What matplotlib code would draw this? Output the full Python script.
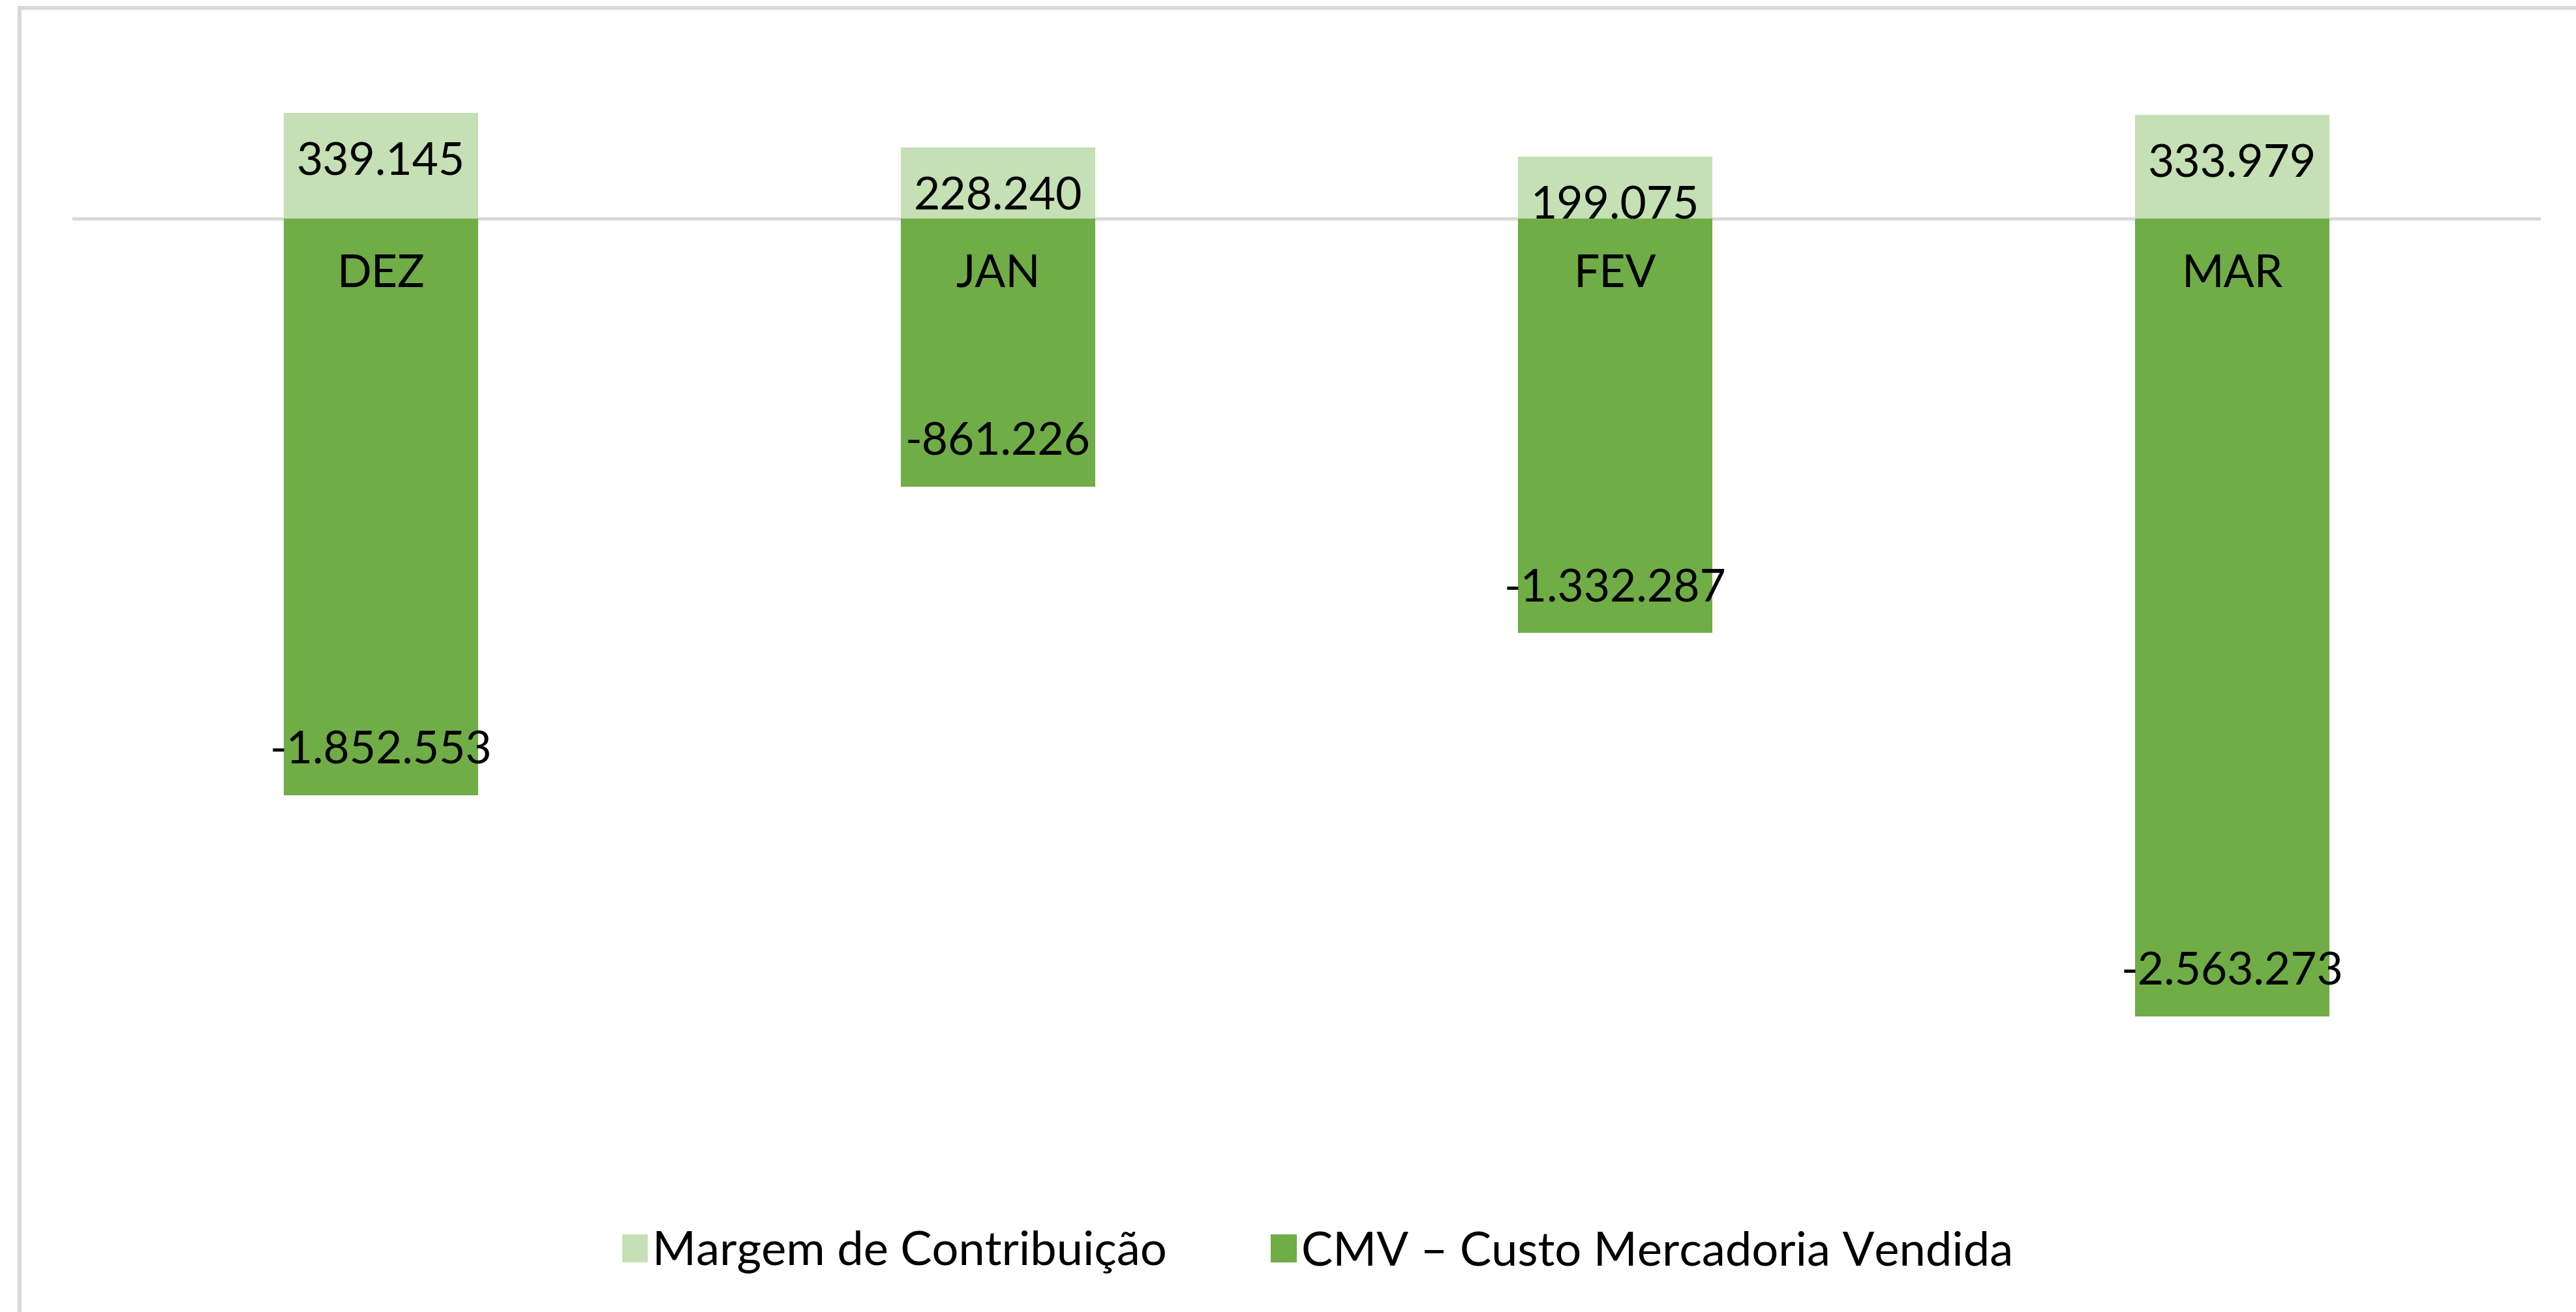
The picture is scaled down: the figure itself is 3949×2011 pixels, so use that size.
import numpy as np
import matplotlib
matplotlib.use("Agg")
import matplotlib.pyplot as plt
from matplotlib.lines import Line2D

# ------------------------------------------
# DATA
# ------------------------------------------
meses = ['DEZ', 'JAN', 'FEV', 'MAR']
margem = [339145, 228240, 199075, 333979]
cmv = [-1852553, -861226, -1332287, -2563273]

label_margem = 'Margem de Contribuição'
label_cmv = 'CMV – Custo Mercadoria Vendida'

cor_margem = '#C5E0B4'
cor_cmv = '#70AD47'
cor_linha = '#D9D9D9'


def fmt_br(v):
    s = f"{abs(v):,}".replace(',', '.')
    return ('-' if v < 0 else '') + s


plt.rcParams['font.family'] = ['Lato', 'DejaVu Sans']

W, H = 3949, 2011
fig = plt.figure(figsize=(W / 100, H / 100), dpi=100)

# axes placed in pixel terms
left, right = 111, 3895
top_px, bot_px = 48.6, 1766
ax = fig.add_axes([left / W, 1 - bot_px / H, (right - left) / W, (bot_px - top_px) / H])

x = np.arange(len(meses))
largura = 0.314

ax.bar(x, margem, width=largura, color=cor_margem, label=label_margem, zorder=2)
ax.bar(x, cmv, width=largura, color=cor_cmv, label=label_cmv, zorder=2)

ax.set_xlim(-0.5, len(meses) - 0.5)
ax.set_ylim(-3000000, 600000)
ax.axhline(0, color=cor_linha, lw=3.6, zorder=1)

for s in ax.spines.values():
    s.set_visible(False)
ax.set_xticks([])
ax.set_yticks([])

fs = 50
# value labels ("inside end")
for i in range(len(meses)):
    ax.annotate(fmt_br(margem[i]), (x[i], margem[i]), xytext=(0, -55),
                textcoords='offset points', ha='center', va='center',
                fontsize=fs, color='black', zorder=3)
    ax.annotate(fmt_br(cmv[i]), (x[i], cmv[i]), xytext=(0, 48.5),
                textcoords='offset points', ha='center', va='center',
                fontsize=fs, color='black', zorder=3)
    # category label next to the zero line
    ax.annotate(meses[i], (x[i], 0), xytext=(0, -61.5),
                textcoords='offset points', ha='center', va='center',
                fontsize=fs, color='black', zorder=3)

# legend
fig.legend(loc='center', bbox_to_anchor=(0.5115, 1 - 1919 / H), ncol=2,
           frameon=False, fontsize=52, handlelength=0.55, handleheight=0.55,
           handletextpad=0.1, columnspacing=2.2)

# chart border (left and top)
fig.add_artist(Line2D([30 / W, 30 / W], [0, 1 - 12 / H], color=cor_linha, lw=4.3,
                      transform=fig.transFigure))
fig.add_artist(Line2D([30 / W, 1], [1 - 12 / H, 1 - 12 / H], color=cor_linha, lw=4.3,
                      transform=fig.transFigure))

fig.savefig('out.png', dpi=100, facecolor='white')
